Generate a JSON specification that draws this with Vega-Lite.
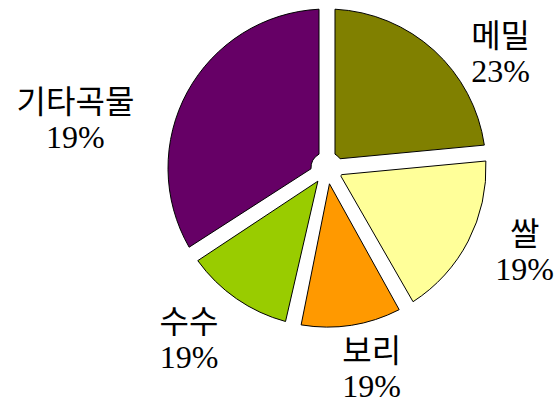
{
  "$schema": "https://vega.github.io/schema/vega-lite/v6.json",
  "autosize": "none",
  "width": 444,
  "height": 336,
  "padding": {"left": 105, "right": 6, "top": 0, "bottom": 67},
  "background": "white",
  "view": {"stroke": null},
  "data": {
    "values": [
      {"cat": "메밀", "label": "메밀\n23%", "v": 23.5, "o": 1},
      {"cat": "쌀", "label": "쌀\n19%", "v": 18.2, "o": 2},
      {"cat": "보리", "label": "보리\n19%", "v": 11.7, "o": 3},
      {"cat": "수수", "label": "수수\n19%", "v": 12.5, "o": 4},
      {"cat": "기타곡물", "label": "기타곡물\n19%", "v": 34.1, "o": 5}
    ]
  },
  "encoding": {
    "theta": {"field": "v", "type": "quantitative", "stack": true},
    "order": {"field": "o", "type": "quantitative"}
  },
  "layer": [
    {
      "mark": {"type": "arc", "outerRadius": 159, "innerRadius": 16, "padAngle": 0.1, "stroke": "black", "strokeWidth": 1},
      "encoding": {
        "color": {
          "field": "cat",
          "type": "nominal",
          "scale": {"domain": ["메밀", "쌀", "보리", "수수", "기타곡물"], "range": ["#808000", "#FFFF99", "#FF9900", "#99CC00", "#660066"]},
          "legend": null
        }
      }
    },
    {
      "mark": {"type": "text", "radius": 200, "dx": 39, "dy": 17, "font": "Liberation Serif, Noto Sans CJK KR", "fontSize": 32, "lineBreak": "\n", "lineHeight": 35, "align": "center", "baseline": "middle", "color": "black"},
      "encoding": {"text": {"condition": {"test": "datum.cat === '메밀'", "field": "label"}, "value": ""}}
    },
    {
      "mark": {"type": "text", "radius": 200, "dx": 20, "dy": -25, "font": "Liberation Serif, Noto Sans CJK KR", "fontSize": 32, "lineBreak": "\n", "lineHeight": 35, "align": "center", "baseline": "middle", "color": "black"},
      "encoding": {"text": {"condition": {"test": "datum.cat === '쌀'", "field": "label"}, "value": ""}}
    },
    {
      "mark": {"type": "text", "radius": 200, "dx": 14, "dy": -14, "font": "Liberation Serif, Noto Sans CJK KR", "fontSize": 32, "lineBreak": "\n", "lineHeight": 35, "align": "center", "baseline": "middle", "color": "black"},
      "encoding": {"text": {"condition": {"test": "datum.cat === '보리'", "field": "label"}, "value": ""}}
    },
    {
      "mark": {"type": "text", "radius": 200, "dx": -24, "dy": -9, "font": "Liberation Serif, Noto Sans CJK KR", "fontSize": 32, "lineBreak": "\n", "lineHeight": 35, "align": "center", "baseline": "middle", "color": "black"},
      "encoding": {"text": {"condition": {"test": "datum.cat === '수수'", "field": "label"}, "value": ""}}
    },
    {
      "mark": {"type": "text", "radius": 200, "dx": -76, "dy": 31, "font": "Liberation Serif, Noto Sans CJK KR", "fontSize": 32, "lineBreak": "\n", "lineHeight": 35, "align": "center", "baseline": "middle", "color": "black"},
      "encoding": {"text": {"condition": {"test": "datum.cat === '기타곡물'", "field": "label"}, "value": ""}}
    }
  ]
}
